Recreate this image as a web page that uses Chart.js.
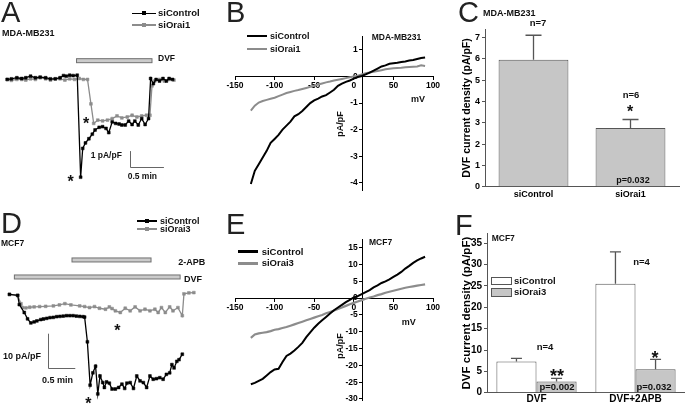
<!DOCTYPE html>
<html><head><meta charset="utf-8">
<script src="https://cdn.jsdelivr.net/npm/chart.js@4.4.0/dist/chart.umd.min.js"></script>
<style>
html,body{margin:0;padding:0;background:#fff;width:685px;height:404px;overflow:hidden;}
#wrap{position:relative;width:685px;height:404px;font-family:"Liberation Sans",Arial,sans-serif;}
#wrap canvas{position:absolute;left:0;top:0;}
.t{position:absolute;white-space:nowrap;font-weight:bold;line-height:1;color:#111;}
.L{font-weight:normal;color:#222;}
.g{position:absolute;}
</style></head><body><div id="wrap"></div>
<script>
// ---------- Panel A: MDA-MB231 time course (min, pA/pF) ----------
const aCtrlTime = [0.04,0.10,0.18,0.25,0.31,0.38,0.45,0.52,0.60,0.67,0.74,0.81,0.86,0.90,0.95,1.00,1.06,1.11,1.14,1.18,1.23,1.28,1.32,1.38,1.43,1.48,1.52,1.57,1.62,1.67,1.71,1.76,1.81,1.86,1.90,1.95,2.00,2.05,2.10,2.13,2.17,2.21,2.26,2.31,2.36,2.40,2.45];
const aCtrlCurrent = [0.02,0.06,0.13,0.08,0.13,0.23,0.13,0.17,0.13,0.06,0.06,0.13,0.27,0.23,0.29,0.27,0.29,-6.23,-4.39,-4.04,-3.77,-3.48,-3.21,-3.04,-3.00,-3.11,-3.38,-2.69,-2.79,-2.83,-2.89,-2.89,-2.64,-2.86,-2.64,-2.89,-2.48,-2.86,-2.48,0.08,-0.25,0.02,-0.08,0.08,-0.08,0.08,0.02];
const aOraiTime = [0.04,0.10,0.18,0.25,0.31,0.38,0.45,0.52,0.60,0.67,0.74,0.81,0.88,0.95,1.02,1.09,1.15,1.21,1.26,1.30,1.36,1.43,1.50,1.57,1.64,1.71,1.79,1.86,1.93,2.00,2.07,2.12,2.15,2.19,2.26,2.33,2.40,2.47];
const aOraiCurrent = [0.02,-0.04,0.02,0.02,-0.02,0.06,0.02,0.13,0.06,-0.02,0.06,0.06,-0.02,0.06,0.02,0.08,0.02,0.02,-1.54,-2.79,-2.58,-2.63,-2.58,-2.48,-2.31,-2.44,-2.38,-2.27,-2.38,-2.31,-2.27,-2.27,-0.39,-0.08,0.02,-0.08,0.02,-0.02];
const aDVF = [1.05, 2.15];

// ---------- Panel B: MDA-MB231 I/V (mV, pA/pF) ----------
const bVoltage = [-130,-125,-120,-115,-110,-105,-100,-95,-90,-85,-80,-75,-70,-65,-60,-55,-50,-45,-40,-35,-30,-25,-20,-15,-10,-5,0,5,10,15,20,25,30,35,40,45,50,55,60,65,70,75,80,85,90];
const bCtrl = [-4.05,-3.55,-3.3,-3.05,-2.8,-2.5,-2.35,-2.2,-2.0,-1.85,-1.7,-1.5,-1.42,-1.3,-1.15,-1.0,-0.9,-0.83,-0.75,-0.7,-0.6,-0.5,-0.35,-0.27,-0.2,-0.15,-0.08,-0.02,0.02,0.08,0.15,0.22,0.3,0.38,0.42,0.48,0.5,0.52,0.55,0.57,0.6,0.62,0.66,0.7,0.72];
const bOrai = [-1.28,-1.1,-0.98,-0.92,-0.88,-0.84,-0.8,-0.74,-0.68,-0.62,-0.58,-0.54,-0.51,-0.47,-0.43,-0.39,-0.35,-0.3,-0.26,-0.22,-0.19,-0.15,-0.12,-0.09,-0.06,-0.03,0,0.03,0.08,0.12,0.15,0.18,0.21,0.24,0.27,0.29,0.31,0.32,0.33,0.35,0.36,0.37,0.38,0.42,0.4];
const bXTicks = [-150,-100,-50,0,50,100];
const bYTicks = [-4,-3,-2,-1,0,1];

// ---------- Panel C: MDA-MB231 DVF current density ----------
const cLabels = ['siControl','siOrai1'];
const cMean = [5.95, 2.75];
const cErr = [1.15, 0.4];
const cTicks = [0,1,2,3,4,5,6,7];

// ---------- Panel D: MCF7 time course (min, pA/pF) ----------
const dCtrlTime = [0.09,0.24,0.27,0.36,0.42,0.48,0.54,0.59,0.66,0.71,0.77,0.83,0.89,0.95,1.01,1.07,1.13,1.19,1.25,1.31,1.37,1.43,1.46,1.51,1.56,1.61,1.66,1.70,1.74,1.79,1.82,1.86,1.91,1.96,2.02,2.08,2.14,2.19,2.23,2.29,2.35,2.41,2.47,2.53,2.59,2.65,2.71,2.77,2.83,2.89,2.95,3.01,3.05,3.09,3.14,3.18,3.24];
const dCtrlCurrent = [-0.14,-0.43,-3.14,-5.43,-7.29,-8.49,-8.2,-7.91,-7.51,-7.34,-7.14,-6.94,-6.86,-6.66,-6.57,-6.49,-6.37,-6.37,-6.37,-6.49,-6.57,-6.66,-6.77,-14.0,-26.66,-23.06,-21.14,-29.23,-24.0,-25.91,-27.34,-25.71,-26.09,-27.8,-27.8,-27.34,-26.37,-27.63,-26.09,-25.91,-27.63,-24.0,-25.43,-25.91,-27.34,-24.0,-24.94,-24.77,-24.49,-24.94,-23.51,-23.06,-20.66,-21.63,-19.71,-19.23,-17.63];
const dOraiTime = [0.09,0.24,0.30,0.33,0.39,0.46,0.54,0.64,0.75,0.89,1.00,1.10,1.21,1.37,1.46,1.55,1.64,1.73,1.84,1.91,1.96,2.02,2.11,2.20,2.29,2.38,2.47,2.56,2.65,2.74,2.80,2.86,2.93,3.01,3.07,3.16,3.24,3.27,3.36,3.45];
const dOraiCurrent = [-0.14,-0.43,-2.86,-4.0,-4.09,-3.91,-3.8,-3.71,-3.63,-3.51,-3.23,-2.86,-3.23,-3.51,-3.71,-4.0,-3.71,-4.2,-4.49,-3.8,-4.29,-4.94,-5.43,-4.2,-4.94,-3.8,-4.94,-4.49,-4.94,-4.49,-5.43,-4.0,-5.43,-3.8,-4.94,-4.0,-6.37,0,0.29,0.37];
const dAPB = [1.23, 2.67];
const dDVF = [0.18, 3.20];

// ---------- Panel E: MCF7 I/V (mV, pA/pF) ----------
const eVoltage = [-130,-125,-120,-115,-110,-105,-100,-95,-90,-85,-80,-75,-70,-65,-60,-55,-50,-45,-40,-35,-30,-25,-20,-15,-10,-5,0,5,10,15,20,25,30,35,40,45,50,55,60,65,70,75,80,85,90];
const eCtrl = [-25.6,-25.2,-24.6,-24.0,-23.0,-22.0,-21.2,-21.0,-19.0,-17.2,-16.5,-15.6,-14.5,-13.3,-11.6,-10.2,-8.8,-7.6,-6.6,-5.6,-4.6,-3.6,-2.8,-2.0,-1.2,-0.5,0.2,0.6,1.2,1.8,2.4,3.2,3.8,4.5,5.0,5.6,6.3,7.0,7.8,8.8,9.6,10.5,11.2,11.8,12.3];
const eOrai = [-11.8,-10.8,-10.5,-10.3,-10.1,-9.8,-9.4,-9.2,-8.9,-8.6,-8.2,-7.8,-7.4,-7.0,-6.6,-6.2,-5.8,-5.4,-5.0,-4.5,-4.1,-3.7,-3.2,-2.8,-2.3,-1.8,-1.4,-1.0,-0.6,-0.2,0.2,0.5,0.9,1.2,1.6,1.9,2.2,2.5,2.8,3.1,3.3,3.5,3.7,3.9,4.1];
const eXTicks = [-150,-100,-50,0,50,100];
const eYTicks = [-30,-25,-20,-15,-10,-5,0,5,10,15];

// ---------- Panel F: MCF7 DVF current density ----------
const fLabels = ['DVF','DVF+2APB'];
const fCtrlMean = [7.3, 25.5];
const fCtrlErr = [0.75, 7.5];
const fOraiMean = [2.6, 5.5];
const fOraiErr = [0.75, 2.3];
const fTicks = [0,5,10,15,20,25,30,35];

// ================= drawing =================
const W = 685, H = 404;
const wrap = document.getElementById('wrap');
const GRAY = '#8c8c8c', FILL = '#c6c6c6', DARK = '#555';
const FONT = '"Liberation Sans", Arial, sans-serif';
Chart.defaults.font.family = FONT;
Chart.defaults.color = '#000';
const zip = (xs, ys) => xs.map((x, i) => ({x, y: ys[i]}));

function makeCtx() {
  const c = document.createElement('canvas');
  c.width = W; c.height = H; c.style.width = W + 'px'; c.style.height = H + 'px';
  wrap.appendChild(c);
  return c.getContext('2d');
}
const basePlugins = {legend: {display: false}, tooltip: {enabled: false}};
const pad = (l, t, r, b) => ({left: l, top: t, right: W - r, bottom: H - b});

// event bars + scale bars for the time-course panels
function decor(spec) {
  return {
    id: 'decor',
    beforeDatasetsDraw(chart) {
      const {ctx, scales: {x, y}} = chart;
      ctx.save();
      spec.bars.forEach(b => {
        const x1 = x.getPixelForValue(b.from), x2 = x.getPixelForValue(b.to), yc = y.getPixelForValue(b.level);
        ctx.fillStyle = '#cbcbcb'; ctx.strokeStyle = '#707070'; ctx.lineWidth = 1;
        ctx.fillRect(x1, yc - 2, x2 - x1, 4); ctx.strokeRect(x1, yc - 2, x2 - x1, 4);
      });
      const s = spec.scaleBar;
      const x0 = x.getPixelForValue(s.t), y0 = y.getPixelForValue(s.i);
      const x1 = x.getPixelForValue(s.t + s.dt), y1 = y.getPixelForValue(s.i + s.di);
      ctx.strokeStyle = '#666'; ctx.lineWidth = 1;
      ctx.beginPath(); ctx.moveTo(Math.round(x0) + 0.5, y1); ctx.lineTo(Math.round(x0) + 0.5, Math.round(y0) + 0.5); ctx.lineTo(x1, Math.round(y0) + 0.5); ctx.stroke();
      ctx.restore();
    }
  };
}
// error bars (upper only) for bar panels
function errorBars(errs, cap) {
  return {
    id: 'errorBars',
    afterDatasetsDraw(chart) {
      const {ctx} = chart, y = chart.scales.y;
      ctx.save(); ctx.strokeStyle = DARK; ctx.lineWidth = 1.3;
      chart.data.datasets.forEach((ds, i) => {
        chart.getDatasetMeta(i).data.forEach((bar, j) => {
          const top = y.getPixelForValue(ds.data[j] + errs[i][j]);
          ctx.beginPath();
          ctx.moveTo(bar.x, bar.y); ctx.lineTo(bar.x, top);
          ctx.moveTo(bar.x - cap / 2, top); ctx.lineTo(bar.x + cap / 2, top);
          ctx.stroke();
        });
      });
      ctx.restore();
    }
  };
}
function traceDS(t, v, color) {
  return {data: zip(t, v), showLine: true, borderColor: color, backgroundColor: color, borderWidth: 1.3,
          pointStyle: 'rect', pointRadius: 2, pointBorderWidth: 0.5, pointBorderColor: color};
}
function ivDS(v, i, color, w) {
  return {data: zip(v, i), showLine: true, borderColor: color, borderWidth: w, pointRadius: 0};
}
function ivScales(xTicks, yTicks, ymin, ymax, yAt) {
  const grid = {drawOnChartArea: false, drawTicks: true, tickLength: 3, color: '#000'};
  const border = {display: true, color: '#000', width: 1};
  const font = {size: 8.5, weight: 'bold'};
  return {
    x: {type: 'linear', min: -150, max: 100, position: {y: 0}, grid, border,
      ticks: {font, color: '#000', padding: 1},
      afterBuildTicks: s => { s.ticks = xTicks.map(v => ({value: v})); },
      afterFit: s => { s.paddingLeft = 0; s.paddingRight = 0; }},
    y: {type: 'linear', min: ymin, max: ymax, position: {x: yAt}, grid, border,
      // labels of a value-positioned axis are right-aligned on the axis line: keep a small gap
      ticks: {font, color: '#000', callback: v => v + '  '},
      afterBuildTicks: s => { s.ticks = yTicks.map(v => ({value: v})); },
      afterFit: s => { s.paddingTop = 0; s.paddingBottom = 0; }}
  };
}

// ----- A -----
new Chart(makeCtx(), {
  type: 'scatter',
  data: {datasets: [traceDS(aCtrlTime, aCtrlCurrent, '#000'), traceDS(aOraiTime, aOraiCurrent, GRAY)]},
  options: {responsive: false, animation: false, devicePixelRatio: 1, layout: {padding: pad(0, 0, 225, 200)},
    scales: {x: {type: 'linear', display: false, min: 0, max: 225 / 70}, y: {display: false, min: -123 / 16, max: 77 / 16}},
    plugins: basePlugins},
  plugins: [decor({bars: [{from: aDVF[0], to: aDVF[1], level: 1.22}], scaleBar: {t: 1.824, i: -5.56, dt: 0.5, di: 1}})]
});
// ----- B -----
new Chart(makeCtx(), {
  type: 'scatter',
  data: {datasets: [ivDS(bVoltage, bCtrl, '#000', 2), ivDS(bVoltage, bOrai, GRAY, 2)]},
  options: {responsive: false, animation: false, devicePixelRatio: 1, layout: {padding: pad(235, 36.7, 433, 190.7)},
    scales: ivScales(bXTicks, bYTicks, -4.3, 1.5, 11), plugins: basePlugins}
});
// ----- C -----
new Chart(makeCtx(), {
  type: 'bar',
  data: {labels: cLabels, datasets: [{data: cMean, backgroundColor: FILL, borderColor: DARK, borderWidth: 1, barPercentage: 0.72, categoryPercentage: 1}]},
  options: {responsive: false, animation: false, devicePixelRatio: 1, layout: {padding: {left: 458, top: 29.3, right: 6, bottom: H - 200}},
    scales: {
      x: {grid: {display: false, drawTicks: false}, border: {color: DARK}, ticks: {font: {size: 9, weight: 'bold'}, color: '#000', padding: 2},
          afterFit: s => { s.height = 13.3; s.paddingLeft = 0; s.paddingRight = 0; }},
      y: {min: 0, max: 7.38, afterBuildTicks: s => { s.ticks = cTicks.map(v => ({value: v})); },
          grid: {drawOnChartArea: false, tickLength: 3, color: DARK}, border: {color: DARK},
          ticks: {font: {size: 9, weight: 'bold'}, color: '#000', padding: 2},
          title: {display: true, text: 'DVF current density (pA/pF)', font: {size: 10.5, weight: 'bold'}, color: '#000', padding: {top: 2.4, bottom: 0}},
          afterFit: s => { s.width = 27; s.paddingTop = 0; s.paddingBottom = 0; }}
    }, plugins: basePlugins},
  plugins: [errorBars([cErr], 16)]
});
// ----- D -----
new Chart(makeCtx(), {
  type: 'scatter',
  data: {datasets: [traceDS(dCtrlTime, dCtrlCurrent, '#000'), traceDS(dOraiTime, dOraiCurrent, GRAY)]},
  options: {responsive: false, animation: false, devicePixelRatio: 1, layout: {padding: pad(0, 200, 225, 404)},
    scales: {x: {type: 'linear', display: false, min: 0, max: 225 / 56}, y: {display: false, min: -108 / 3.5, max: 96 / 3.5}},
    plugins: basePlugins},
  plugins: [decor({bars: [{from: dAPB[0], to: dAPB[1], level: 9.91}, {from: dDVF[0], to: dDVF[1], level: 4.94}], scaleBar: {t: 0.79, i: -21.63, dt: 0.5, di: 10}})]
});
// ----- E -----
new Chart(makeCtx(), {
  type: 'scatter',
  data: {datasets: [ivDS(eVoltage, eCtrl, '#000', 2), ivDS(eVoltage, eOrai, GRAY, 2.2)]},
  options: {responsive: false, animation: false, devicePixelRatio: 1, layout: {padding: pad(235, 239.3, 433, 400)},
    scales: ivScales(eXTicks, eYTicks, -30.3, 17.5, 11), plugins: basePlugins}
});
// ----- F -----
new Chart(makeCtx(), {
  type: 'bar',
  data: {labels: fLabels, datasets: [
    {data: fCtrlMean, backgroundColor: '#fff', borderColor: DARK, borderWidth: 1, barPercentage: 1, categoryPercentage: 0.81},
    {data: fOraiMean, backgroundColor: FILL, borderColor: DARK, borderWidth: 1, barPercentage: 1, categoryPercentage: 0.81}]},
  options: {responsive: false, animation: false, devicePixelRatio: 1, layout: {padding: {left: 458, top: 233.5, right: 0, bottom: 0}},
    scales: {
      x: {grid: {display: false, drawTicks: false}, border: {color: DARK}, ticks: {font: {size: 10, weight: 'bold'}, color: '#000', padding: 1},
          afterFit: s => { s.height = 11.3; s.paddingLeft = 0; s.paddingRight = 0; }},
      y: {min: 0, max: 37.3, afterBuildTicks: s => { s.ticks = fTicks.map(v => ({value: v})); },
          grid: {drawOnChartArea: false, tickLength: 3, color: DARK}, border: {color: DARK},
          ticks: {font: {size: 10, weight: 'bold'}, color: '#000', padding: 2},
          title: {display: true, text: 'DVF current density (pA/pF)', font: {size: 11.5, weight: 'bold'}, color: '#000', padding: {top: 2, bottom: 0}},
          afterFit: s => { s.width = 29; s.paddingTop = 0; s.paddingBottom = 0; }}
    }, plugins: basePlugins},
  plugins: [errorBars([fCtrlErr, fOraiErr], 11)]
});

// ================= text & legends (HTML) =================
function txt(x, y, s, o = {}) {
  const d = document.createElement('div');
  d.className = 't' + (o.cls ? ' ' + o.cls : '');
  d.textContent = s;
  const size = o.size || 9;
  d.style.fontSize = size + 'px';
  d.style.left = x + 'px';
  const a = o.anchor || 'l';
  if (a === 'ast') {
    d.style.top = (y - 0.27 * size) + 'px';
    d.style.transform = 'translateX(-50%)';
  } else if (o.rot) {
    d.style.top = y + 'px';
    d.style.transform = 'translate(-50%,-50%) rotate(' + o.rot + 'deg)';
  } else {
    d.style.top = y + 'px';
    d.style.transform = 'translate(' + (a === 'c' ? '-50%' : a === 'r' ? '-100%' : '0') + ',-50%)';
  }
  wrap.appendChild(d);
}
function rect(x, y, w, h, fill, stroke) {
  const d = document.createElement('div');
  d.className = 'g';
  d.style.cssText += `left:${x}px;top:${y}px;width:${w}px;height:${h}px;background:${fill};` + (stroke ? `border:1px solid ${stroke};box-sizing:border-box;` : '');
  wrap.appendChild(d);
}
const hline = (x1, x2, y, w, c) => rect(x1, y - w / 2, x2 - x1, w, c);
const marker = (x, y, c) => rect(x - 2, y - 2, 4, 4, c);
const letter = (x, y, s) => txt(x, y, s, {size: 29, cls: 'L'});

// A
letter(1, 12, 'A');
txt(2, 33, 'MDA-MB231', {size: 9});
hline(132, 156, 13.3, 1.5, '#000'); marker(144, 13.3, '#000'); txt(158, 13.3, 'siControl', {size: 9.5});
hline(132, 156, 25, 1.5, GRAY); marker(144, 25, GRAY); txt(158, 25, 'siOrai1', {size: 9.5});
txt(158, 57.5, 'DVF', {size: 8.5});
txt(86, 120, '*', {size: 16, anchor: 'ast'});
txt(70.7, 178.3, '*', {size: 16, anchor: 'ast'});
txt(90.7, 155, '1 pA/pF', {size: 8.5});
txt(127.7, 175.5, '0.5 min', {size: 8.5});
// B
letter(226, 12, 'B');
txt(371.7, 36.7, 'MDA-MB231', {size: 8.5});
hline(246.7, 266.7, 36, 2.5, '#000'); txt(270, 36, 'siControl', {size: 9});
hline(246.7, 266.7, 49.3, 2, GRAY); txt(270, 49.3, 'siOrai1', {size: 9});
txt(411, 99, 'mV', {size: 9});
txt(340, 124, 'pA/pF', {size: 9, rot: -90});
// C
letter(458, 12, 'C');
txt(483, 13.3, 'MDA-MB231', {size: 9});
txt(538, 23, 'n=7', {size: 9.5, anchor: 'c'});
txt(631, 95, 'n=6', {size: 9.5, anchor: 'c'});
txt(630, 108, '*', {size: 16, anchor: 'ast'});
txt(633, 180, 'p=0.032', {size: 9, anchor: 'c'});
// D
letter(1, 223, 'D');
txt(1, 243, 'MCF7', {size: 8.5});
hline(137.3, 156.7, 221, 1.5, '#000'); marker(147, 221, '#000'); txt(160, 221, 'siControl', {size: 9});
hline(137.3, 156.7, 229, 1.5, GRAY); marker(147, 229, GRAY); txt(160, 229, 'siOrai3', {size: 9});
txt(178.3, 261.7, '2-APB', {size: 9});
txt(184, 279, 'DVF', {size: 9});
txt(117.3, 327.7, '*', {size: 16, anchor: 'ast'});
txt(88.3, 400, '*', {size: 16, anchor: 'ast'});
txt(3, 356, '10 pA/pF', {size: 9});
txt(42, 380, '0.5 min', {size: 9});
// E
letter(226, 224, 'E');
txt(369, 242, 'MCF7', {size: 8.5});
hline(237.7, 258.3, 251.7, 3, '#000'); txt(261.7, 251.7, 'siControl', {size: 9.5});
hline(237.7, 258.3, 263.3, 3, GRAY); txt(261.7, 263.3, 'siOrai3', {size: 9.5});
txt(401.7, 321.7, 'mV', {size: 9});
txt(340, 346, 'pA/pF', {size: 9, rot: -90});
// F
letter(455, 225, 'F');
txt(491.7, 238.3, 'MCF7', {size: 8.5});
rect(490.7, 277.3, 21, 7.7, '#fff', DARK); txt(514, 281, 'siControl', {size: 9.5});
rect(490.7, 288.3, 21, 8.4, FILL, DARK); txt(514, 292.3, 'siOrai3', {size: 9.5});
txt(641.5, 261.7, 'n=4', {size: 9.5, anchor: 'c'});
txt(545, 347.3, 'n=4', {size: 9.5, anchor: 'c'});
txt(557, 371.7, '**', {size: 18, anchor: 'ast'});
txt(655, 354, '*', {size: 18, anchor: 'ast'});
txt(557, 387.3, 'p=0.002', {size: 9.5, anchor: 'c'});
txt(654, 387.3, 'p=0.032', {size: 9.5, anchor: 'c'});
</script>
</body></html>
